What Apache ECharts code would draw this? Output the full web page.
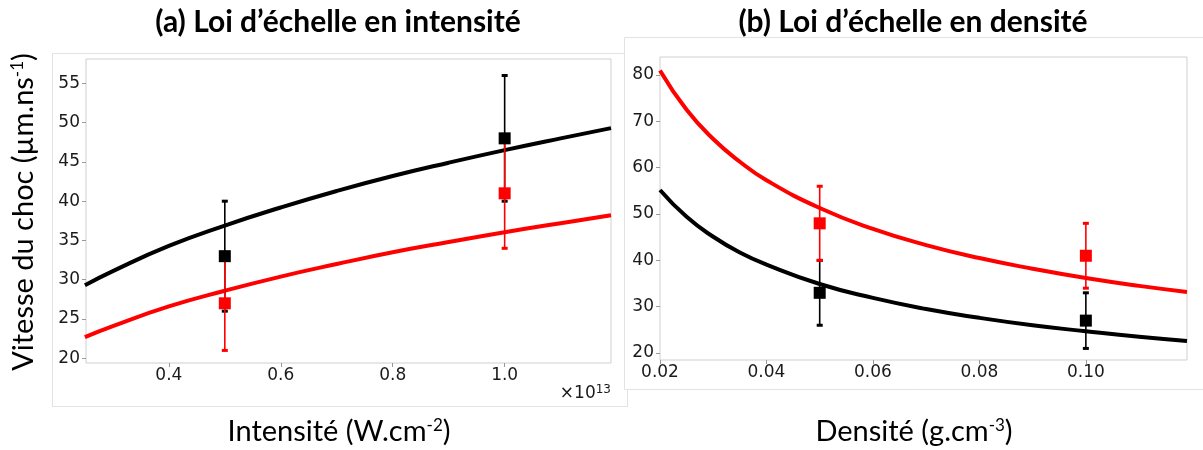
<!DOCTYPE html>
<html>
<head>
<meta charset="utf-8">
<script src="https://cdn.jsdelivr.net/npm/echarts@6/dist/echarts.min.js"></script>
<style>
html,body{margin:0;padding:0;background:#fff;}
#chart{width:1203px;height:450px;}
</style>
</head>
<body>
<div id="chart"></div>
<script>
// ---- Panel (a): intensity (x in units of 1e13 W/cm2) ----
const intensityFitX = [0.25, 0.3, 0.4, 0.5, 0.6, 0.7, 0.8, 0.9, 1.0, 1.1, 1.19];
const intensityFitBlack = [29.3, 31.1, 34.3, 36.9, 39.2, 41.3, 43.2, 44.9, 46.5, 48.0, 49.3];
const intensityFitRed = [22.7, 24.1, 26.6, 28.6, 30.4, 32.0, 33.5, 34.8, 36.05, 37.2, 38.2];
const intensityPtsX = [0.5, 1.0];
const intensityBlack = [33, 48];
const intensityBlackLow = [26, 40];
const intensityBlackHigh = [40, 56];
const intensityRed = [27, 41];
const intensityRedLow = [21, 34];
const intensityRedHigh = [33, 48];
const intensityXTicks = [0.4, 0.6, 0.8, 1.0];
const intensityYTicks = [20, 25, 30, 35, 40, 45, 50, 55];

// ---- Panel (b): density (g/cm3) ----
const densityFitX = [0.02, 0.025, 0.03, 0.035, 0.04, 0.05, 0.06, 0.07, 0.08, 0.09, 0.10, 0.11, 0.119];
const densityFitRed = [81.0, 72.5, 66.2, 61.3, 57.3, 51.3, 46.8, 43.3, 40.5, 38.2, 36.2, 34.5, 33.2];
const densityFitBlack = [55.2, 49.4, 45.1, 41.7, 39.1, 34.9, 31.9, 29.5, 27.6, 26.0, 24.7, 23.5, 22.6];
const densityPtsX = [0.05, 0.10];
const densityRed = [48, 41];
const densityRedLow = [40, 34];
const densityRedHigh = [56, 48];
const densityBlack = [33, 27];
const densityBlackLow = [26, 21];
const densityBlackHigh = [40, 33];
const densityXTicks = [0.02, 0.04, 0.06, 0.08, 0.10];
const densityYTicks = [20, 30, 40, 50, 60, 70, 80];

const zip = (xs, ys) => xs.map((x, i) => [x, ys[i]]);
const zipErr = (xs, lo, hi) => xs.map((x, i) => [x, lo[i], hi[i]]);

const chart = echarts.init(document.getElementById('chart'), null, {renderer: 'canvas'});

const tickFont = {fontFamily: 'DejaVu Sans', fontSize: 17, color: '#1a1a1a'};
const slideFont = 'Lato';

function errBar(color) {
  return function (params, api) {
    const x = api.value(0);
    const p1 = api.coord([x, api.value(1)]);
    const p2 = api.coord([x, api.value(2)]);
    const cw = 3;
    return {
      type: 'group',
      children: [
        {type: 'line', shape: {x1: p1[0], y1: p1[1], x2: p2[0], y2: p2[1]}, style: {stroke: color, lineWidth: 1.6}},
        {type: 'rect', shape: {x: p1[0] - cw, y: p1[1] - 1.5, width: 2 * cw, height: 3}, style: {fill: color}},
        {type: 'rect', shape: {x: p2[0] - cw, y: p2[1] - 1.5, width: 2 * cw, height: 3}, style: {fill: color}}
      ]
    };
  };
}

function xAxisCfg(gridIndex, min, max, ticks, fmt) {
  return {
    type: 'value', gridIndex, min, max,
    axisLine: {show: false},
    axisTick: {show: true, length: 4, lineStyle: {color: '#9a9a9a'}, customValues: ticks},
    axisLabel: Object.assign({margin: 4, customValues: ticks, formatter: fmt, showMinLabel: true, showMaxLabel: true}, tickFont),
    splitLine: {show: false}
  };
}
function yAxisCfg(gridIndex, min, max, ticks) {
  return {
    type: 'value', gridIndex, min, max,
    axisLine: {show: false},
    axisTick: {show: true, length: 4, lineStyle: {color: '#9a9a9a'}, customValues: ticks},
    axisLabel: Object.assign({margin: 6, customValues: ticks}, tickFont),
    splitLine: {show: false}
  };
}

const supRich = {sup: {fontFamily: slideFont, fontSize: 17, verticalAlign: 'top', padding: [0, 0, 12, 0]}};

const option = {
  backgroundColor: '#ffffff',
  animation: false,
  grid: [
    {left: 86, top: 59, width: 525, height: 304, show: true, borderColor: '#cfcfcf', borderWidth: 1, backgroundColor: 'transparent'},
    {left: 660, top: 57, width: 527, height: 303, show: true, borderColor: '#cfcfcf', borderWidth: 1, backgroundColor: 'transparent'}
  ],
  xAxis: [
    xAxisCfg(0, 0.252, 1.19, intensityXTicks, v => v.toFixed(1)),
    xAxisCfg(1, 0.02, 0.119, densityXTicks, v => v.toFixed(2))
  ],
  yAxis: [
    yAxisCfg(0, 19.4, 58.1, intensityYTicks),
    yAxisCfg(1, 18.5, 83.9, densityYTicks)
  ],
  graphic: [
    // faint borders of the two pasted figures
    {type: 'rect', z: -10, shape: {x: 52.5, y: 53.5, width: 575, height: 353}, style: {fill: '#fff', stroke: '#e3e3e3', lineWidth: 1}},
    {type: 'rect', z: -9, shape: {x: 624.5, y: 37.5, width: 600, height: 352}, style: {fill: '#fff', stroke: '#e3e3e3', lineWidth: 1}},
    {type: 'text', z: 10, x: 338, y: 22, style: {text: "(a) Loi d\u2019\u00e9chelle en intensit\u00e9", font: 'bold 30px ' + slideFont, fill: '#000', align: 'center', verticalAlign: 'middle'}},
    {type: 'text', z: 10, x: 913, y: 22, style: {text: "(b) Loi d\u2019\u00e9chelle en densit\u00e9", font: 'bold 30px ' + slideFont, fill: '#000', align: 'center', verticalAlign: 'middle'}},
    {type: 'text', z: 10, x: 339, y: 432, style: {
      text: 'Intensit\u00e9 (W.cm{sup|-2})', fontFamily: slideFont, fontSize: 29, fill: '#000', align: 'center', verticalAlign: 'middle',
      rich: supRich}},
    {type: 'text', z: 10, x: 914, y: 432, style: {
      text: 'Densit\u00e9 (g.cm{sup|-3})', fontFamily: slideFont, fontSize: 29, fill: '#000', align: 'center', verticalAlign: 'middle',
      rich: supRich}},
    {type: 'text', z: 10, x: 24, y: 212, rotation: Math.PI / 2, style: {
      text: 'Vitesse du choc (\u00b5m.ns{sup|-1})', fontFamily: slideFont, fontSize: 29, fill: '#000', align: 'center', verticalAlign: 'middle',
      rich: supRich}},
    {type: 'text', z: 10, x: 611, y: 394, style: {
      text: '\u00d710{s|13}', fontFamily: 'DejaVu Sans', fontSize: 17, fill: '#1a1a1a', align: 'right', verticalAlign: 'middle',
      rich: {s: {fontFamily: 'DejaVu Sans', fontSize: 12, padding: [0, 0, 9, 0]}}}}
  ],
  series: [
    // panel (a)
    {type: 'line', xAxisIndex: 0, yAxisIndex: 0, data: zip(intensityFitX, intensityFitBlack), smooth: true, showSymbol: false, lineStyle: {color: '#000', width: 4}, z: 2},
    {type: 'line', xAxisIndex: 0, yAxisIndex: 0, data: zip(intensityFitX, intensityFitRed), smooth: true, showSymbol: false, lineStyle: {color: '#ff0000', width: 4}, z: 2},
    {type: 'custom', xAxisIndex: 0, yAxisIndex: 0, renderItem: errBar('#000'), data: zipErr(intensityPtsX, intensityBlackLow, intensityBlackHigh), z: 3},
    {type: 'custom', xAxisIndex: 0, yAxisIndex: 0, renderItem: errBar('#ff0000'), data: zipErr(intensityPtsX, intensityRedLow, intensityRedHigh), z: 4},
    {type: 'scatter', xAxisIndex: 0, yAxisIndex: 0, data: zip(intensityPtsX, intensityRed), symbol: 'rect', symbolSize: 12, itemStyle: {color: '#ff0000', opacity: 1}, z: 5},
    {type: 'scatter', xAxisIndex: 0, yAxisIndex: 0, data: zip(intensityPtsX, intensityBlack), symbol: 'rect', symbolSize: 12, itemStyle: {color: '#000', opacity: 1}, z: 6},
    // panel (b)
    {type: 'line', xAxisIndex: 1, yAxisIndex: 1, data: zip(densityFitX, densityFitRed), smooth: true, showSymbol: false, lineStyle: {color: '#ff0000', width: 4}, z: 2},
    {type: 'line', xAxisIndex: 1, yAxisIndex: 1, data: zip(densityFitX, densityFitBlack), smooth: true, showSymbol: false, lineStyle: {color: '#000', width: 4}, z: 2},
    {type: 'custom', xAxisIndex: 1, yAxisIndex: 1, renderItem: errBar('#000'), data: zipErr(densityPtsX, densityBlackLow, densityBlackHigh), z: 3},
    {type: 'custom', xAxisIndex: 1, yAxisIndex: 1, renderItem: errBar('#ff0000'), data: zipErr(densityPtsX, densityRedLow, densityRedHigh), z: 4},
    {type: 'scatter', xAxisIndex: 1, yAxisIndex: 1, data: zip(densityPtsX, densityBlack), symbol: 'rect', symbolSize: 12, itemStyle: {color: '#000', opacity: 1}, z: 5},
    {type: 'scatter', xAxisIndex: 1, yAxisIndex: 1, data: zip(densityPtsX, densityRed), symbol: 'rect', symbolSize: 12, itemStyle: {color: '#ff0000', opacity: 1}, z: 6}
  ]
};
chart.setOption(option);
</script>
</body>
</html>
